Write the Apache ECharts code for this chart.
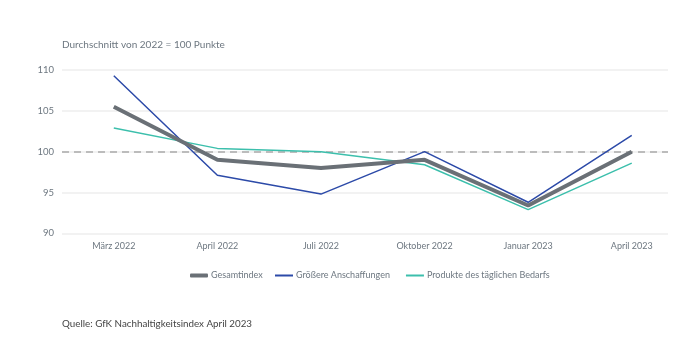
<!DOCTYPE html>
<html><head><meta charset="utf-8">
<script src="https://cdn.jsdelivr.net/npm/echarts@6/dist/echarts.min.js"></script>
<style>html,body{margin:0;padding:0;background:#fff}#c{width:700px;height:339px}</style>
</head><body><div id="c"></div>
<script>
const categories = ['März 2022','April 2022','Juli 2022','Oktober 2022','Januar 2023','April 2023'];
const gesamtindex = [105.5, 99.0, 98.0, 99.0, 93.4, 100.0];
const groessere = [109.3, 97.1, 94.8, 100.0, 93.8, 102.0];
const taeglich = [102.9, 100.4, 100.0, 98.4, 92.9, 98.6];
const yTicks = [90, 95, 100, 105, 110];
const seriesNames = ['Gesamtindex','Größere Anschaffungen','Produkte des täglichen Bedarfs'];
const subtitle = 'Durchschnitt von 2022 = 100 Punkte';
const source = 'Quelle: GfK Nachhaltigkeitsindex April 2023';

const pts = arr => arr.map((v,i)=>[i,v]);
const font = 'Lato, "Open Sans", sans-serif';
const legTxt = {fontSize:9,color:'#6d7780',fontFamily:font,padding:[0,0,0,-2]};
const chart = echarts.init(document.getElementById('c'));
chart.setOption({
  animation:false,
  textStyle:{fontFamily:font},
  title:[
    {text:subtitle,left:62,top:40,padding:0,textStyle:{fontSize:10,fontWeight:'normal',color:'#6d7780',fontFamily:font}},
    {text:source,left:62,top:319,padding:0,textStyle:{fontSize:9.8,fontWeight:'normal',color:'#444',fontFamily:font}}
  ],
  grid:{left:62,right:32,top:70,height:163.3},
  legend:[
    {left:190,top:271,padding:0,itemWidth:18,itemHeight:4,icon:'roundRect',textStyle:legTxt,data:[seriesNames[0]]},
    {left:275,top:271,padding:0,itemWidth:18,itemHeight:2,itemGap:16,icon:'rect',textStyle:legTxt,data:[seriesNames[1],seriesNames[2]]}
  ],
  xAxis:{
    type:'value',min:-0.5,max:5.35,
    axisLine:{show:false},axisTick:{show:false},splitLine:{show:false},
    axisLabel:{customValues:[0,1,2,3,4,5],formatter:v=>categories[Math.round(v)],color:'#6d7780',fontSize:9,margin:8,fontFamily:font}
  },
  yAxis:{
    type:'value',min:yTicks[0],max:yTicks[yTicks.length-1],interval:5,
    axisLine:{show:false},axisTick:{show:false},
    axisLabel:{color:'#6d7780',fontSize:9.5,margin:8,fontFamily:font},
    splitLine:{lineStyle:{color:'#eeeeee',width:1.5}}
  },
  series:[
    {name:seriesNames[1],type:'line',data:pts(groessere),symbol:'none',lineStyle:{color:'#2c4aa8',width:1.5},itemStyle:{color:'#2c4aa8'},z:3},
    {name:seriesNames[2],type:'line',data:pts(taeglich),symbol:'none',lineStyle:{color:'#3cbfac',width:1.5},itemStyle:{color:'#3cbfac'},z:3},
    {name:seriesNames[0],type:'line',data:pts(gesamtindex),symbol:'none',lineStyle:{color:'#6a7076',width:4},itemStyle:{color:'#6a7076'},z:4,
     markLine:{silent:true,symbol:'none',label:{show:false},lineStyle:{color:'#aaaaaa',type:[7,5],width:1.5},
       data:[[{coord:[-0.5,100]},{coord:[5.35,100]}]],z:2}}
  ]
});
</script></body></html>
